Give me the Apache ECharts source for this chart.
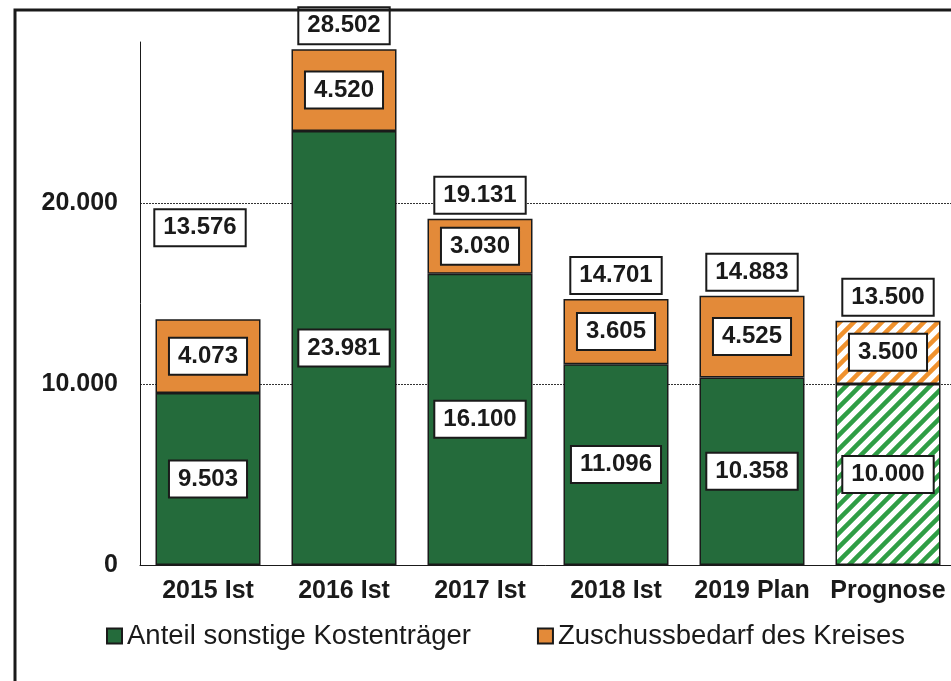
<!DOCTYPE html>
<html>
<head>
<meta charset="utf-8">
<script src="https://cdn.jsdelivr.net/npm/echarts@6/dist/echarts.min.js"></script>
<style>
html,body{margin:0;padding:0;background:#fff;}
#chart{width:951px;height:681px;}
</style>
</head>
<body>
<div id="chart"></div>
<script>
var categories = ['2015 Ist', '2016 Ist', '2017 Ist', '2018 Ist', '2019 Plan', 'Prognose'];
var sonstige = [9503, 23981, 16100, 11096, 10358, 10000];
var zuschuss = [4073, 4520, 3030, 3605, 4525, 3500];
var totals = [13576, 28502, 19131, 14701, 14883, 13500];
var seriesNames = ['Anteil sonstige Kostenträger', 'Zuschussbedarf des Kreises'];
var yTicks = [0, 10000, 20000];

var GREEN = '#246b3b', ORANGE = '#e38a39';
var FONT = "'Liberation Sans', Arial, sans-serif";

function fmt(v) { return String(v).replace(/\B(?=(\d{3})+(?!\d))/g, '.'); }

function stripes(color) {
  var s = 14, c = document.createElement('canvas');
  c.width = s; c.height = s;
  var g = c.getContext('2d');
  g.fillStyle = '#fff'; g.fillRect(0, 0, s, s);
  g.strokeStyle = color; g.lineWidth = 4.5; g.lineCap = 'square';
  g.beginPath();
  g.moveTo(0, s); g.lineTo(s, 0);
  g.moveTo(-s / 2, s / 2); g.lineTo(s / 2, -s / 2);
  g.moveTo(s / 2, s * 1.5); g.lineTo(s * 1.5, s / 2);
  g.stroke();
  return { image: c, repeat: 'repeat' };
}

var boxLabel = {
  show: true,
  color: '#1a1a1a',
  fontFamily: FONT,
  fontWeight: 'bold',
  fontSize: 24,
  lineHeight: 25,
  backgroundColor: '#fff',
  borderColor: '#1a1a1a',
  borderWidth: 2,
  padding: [5, 8, 5, 8],
  formatter: function (p) { return fmt(p.value); }
};

var last = categories.length - 1;
var greenData = sonstige.map(function (v, i) {
  return i === last ? { value: v, itemStyle: { color: stripes('#2f9e45') } } : v;
});
var orangeData = zuschuss.map(function (v, i) {
  return i === last ? { value: v, itemStyle: { color: stripes('#f0922e') } } : v;
});
var totalData = totals.map(function (v, i) {
  return i === 0 ? { value: v, label: { offset: [-8, -68] } } : v;
});

var chart = echarts.init(document.getElementById('chart'), null, { renderer: 'canvas' });
chart.setOption({
  animation: false,
  backgroundColor: '#fff',
  textStyle: { fontFamily: FONT },
  grid: { left: 140, width: 816, top: 42, bottom: 116, containLabel: false, outerBoundsMode: 'none' },
  legend: {
    left: 101, top: 617,
    itemWidth: 15, itemHeight: 15, itemGap: 66,
    icon: 'rect',
    textStyle: { fontFamily: FONT, fontSize: 27.5, color: '#1a1a1a' },
    data: seriesNames
  },
  xAxis: {
    type: 'category',
    data: categories,
    axisLine: { show: true, lineStyle: { color: '#1a1a1a', width: 1 } },
    axisTick: { show: false },
    axisLabel: { interval: 0, color: '#1a1a1a', fontFamily: FONT, fontWeight: 'bold', fontSize: 25, margin: 14 }
  },
  yAxis: {
    type: 'value',
    min: 0, max: 28900, interval: 10000,
    axisLine: { show: true, lineStyle: { color: '#1a1a1a', width: 1 } },
    axisTick: { show: false },
    axisLabel: {
      color: '#1a1a1a', fontFamily: FONT, fontWeight: 'bold', fontSize: 25, margin: 22,
      showMaxLabel: false,
      formatter: function (v) { return yTicks.indexOf(v) >= 0 ? fmt(v) : ''; }
    },
    splitLine: { show: true, showMinLine: false, showMaxLine: false,
      lineStyle: { color: '#333', width: 1, type: [2, 1] } }
  },
  series: [
    {
      name: seriesNames[0], type: 'bar', stack: 's', barWidth: 105,
      data: greenData,
      itemStyle: { color: GREEN, borderColor: '#1a1a1a', borderWidth: 1.5 },
      label: Object.assign({}, boxLabel, { position: 'inside' })
    },
    {
      name: seriesNames[1], type: 'bar', stack: 's', barWidth: 105,
      data: orangeData,
      itemStyle: { color: ORANGE, borderColor: '#1a1a1a', borderWidth: 1.5 },
      label: Object.assign({}, boxLabel, { position: 'inside' })
    },
    {
      name: 'Summe', type: 'bar', barWidth: 105, barGap: '-100%', silent: true,
      data: totalData,
      itemStyle: { color: 'rgba(0,0,0,0)' },
      label: Object.assign({}, boxLabel, { position: 'top', distance: 6 }),
      z: 5
    }
  ],
  graphic: [{
    type: 'rect', silent: true, z: 100,
    shape: { x: 15, y: 10, width: 1000, height: 1000 },
    style: { fill: 'none', stroke: '#1a1a1a', lineWidth: 3 }
  }]
});
</script>
</body>
</html>
